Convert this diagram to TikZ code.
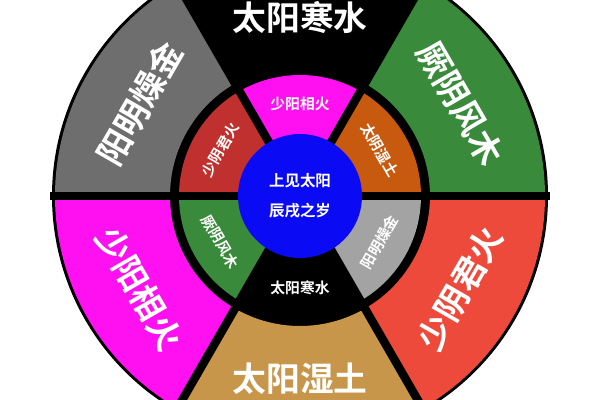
\documentclass[tikz,border=0pt]{standalone}
\usepackage{fontspec}
\setmainfont{Noto Sans CJK SC}[BoldFont={Noto Sans CJK SC Bold}]
\definecolor{cgreen}{HTML}{3A8A3C}
\definecolor{cred}{HTML}{EE4A3C}
\definecolor{ctan}{HTML}{C8964A}
\definecolor{cmag}{HTML}{FF10F0}
\definecolor{cgray}{HTML}{6E6E6E}
\definecolor{corange}{HTML}{C85A10}
\definecolor{cmred}{HTML}{C0302E}
\definecolor{cmgray}{HTML}{A3A3A3}
\definecolor{cblue}{HTML}{0A0AF5}
\tikzset{
  outtxt/.style={text=white,font=\bfseries\fontsize{24}{26}\selectfont},
  midtxt/.style={text=white,font=\bfseries\fontsize{10.5}{12}\selectfont},
  ctrtxt/.style={text=white,font=\bfseries\fontsize{11}{13}\selectfont,align=center}
}
\newcommand{\sect}[5]{\fill[#5] (#1:#3) arc (#1:#2:#3) -- (#2:#4) arc (#2:#1:#4) -- cycle;}
\begin{document}
\begin{tikzpicture}[x=0.025cm,y=0.025cm]
\useasboundingbox (0,0) rectangle (600,400);
\fill[white] (0,0) rectangle (600,400);
\clip (0,0) rectangle (600,400);
\begin{scope}[shift={(300,204)}]
\fill[black] (0,0) circle (248);
\sect{0}{60}{130}{245}{cgreen}
\sect{60}{120}{130}{245}{black}
\sect{120}{180}{130}{245}{cgray}
\sect{180}{240}{130}{245}{cmag}
\sect{240}{300}{130}{245}{ctan}
\sect{300}{360}{130}{245}{cred}
\sect{0}{60}{60}{121}{corange}
\sect{60}{120}{60}{121}{cmag}
\sect{120}{180}{60}{121}{cmred}
\sect{180}{240}{60}{121}{cgreen}
\sect{240}{300}{60}{121}{black}
\sect{300}{360}{60}{121}{cmgray}
\foreach \a in {0,60,...,300} \draw[black,line width=6pt] (0,0) -- (\a:250);
\fill[cblue] (0,0) circle (62);
\node[outtxt] (o1) at (90:178) {太阳寒水};
\node[outtxt,rotate=-60] (o2) at (30:185) {厥阴风木};
\node[outtxt,rotate=60] (o3) at (-30:185) {少阴君火};
\node[outtxt] (o4) at (-90:183) {太阳湿土};
\node[outtxt,rotate=-60] (o5) at (210:185) {少阳相火};
\node[outtxt,rotate=60] (o6) at (150:185) {阳明燥金};
\node[midtxt] (m1) at (90:92) {少阳相火};
\node[midtxt,rotate=-60] (m2) at (30:92) {太阴湿土};
\node[midtxt,rotate=60] (m3) at (-30:92) {阳明燥金};
\node[midtxt] (m4) at (-90:92) {太阳寒水};
\node[midtxt,rotate=-60] (m5) at (210:92) {厥阴风木};
\node[midtxt,rotate=60] (m6) at (150:92) {少阴君火};
\node[ctrtxt] (c1) at (0,15) {上见太阳};
\node[ctrtxt] (c2) at (0,-15) {辰戌之岁};
\end{scope}
\end{tikzpicture}
\end{document}
